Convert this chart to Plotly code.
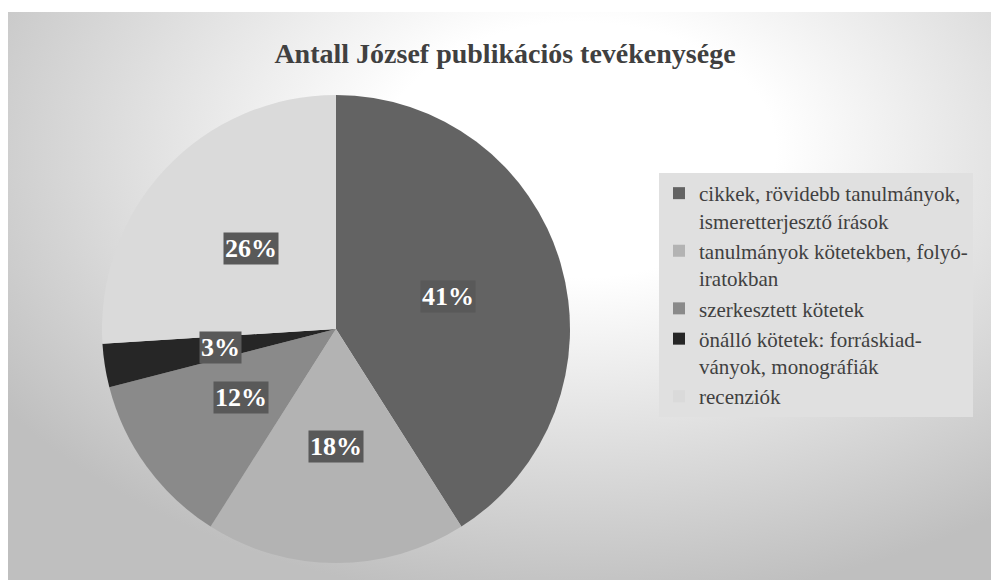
import base64
import math
import plotly.graph_objects as go

# ---- data ----
categories = [
    "cikkek, rövidebb tanulmányok,<br>ismeretterjesztő írások",
    "tanulmányok kötetekben, folyó-<br>iratokban",
    "szerkesztett kötetek",
    "önálló kötetek: forráskiad-<br>ványok, monográfiák",
    "recenziók",
]
shares = [41, 18, 12, 3, 26]
slice_colors = ["#636363", "#b3b3b3", "#8a8a8a", "#262626", "#dadada"]
title_text = "Antall József publikációs tevékenysége"

W, H = 991, 580
# pie geometry in pixels
cx, cy, R = 336, 329, 234

fig = go.Figure()
fig.add_trace(go.Pie(
    labels=categories,
    values=shares,
    sort=False,
    direction="clockwise",
    rotation=0,
    marker=dict(colors=slice_colors, line=dict(width=0)),
    textinfo="none",
    hoverinfo="label+percent",
    domain=dict(x=[(cx - R) / W, (cx + R) / W], y=[(H - cy - R) / H, (H - cy + R) / H]),
))

# percentage labels at half radius, derived from the data
total = sum(shares)
cum = 0
annotations = []
for v in shares:
    mid = (cum + v / 2) / total * 2 * math.pi
    cum += v
    px = cx + 0.5 * R * math.sin(mid)
    py = cy - 0.5 * R * math.cos(mid)
    annotations.append(dict(
        x=px / W, y=1 - py / H, xref="paper", yref="paper",
        text=f"{round(v / total * 100)}%", showarrow=False,
        font=dict(family="Liberation Serif", size=26, color="white", weight="bold"),
        bgcolor="#595959", borderpad=1,
        xanchor="center", yanchor="middle",
    ))

svg = (
    '<svg xmlns="http://www.w3.org/2000/svg" width="983" height="568" viewBox="0 0 983 568" preserveAspectRatio="none">'
    '<defs><radialGradient id="g" gradientUnits="userSpaceOnUse" cx="572" cy="138" r="700" '
    'gradientTransform="translate(572 138) scale(1 0.65) translate(-572 -138)">'
    '<stop offset="0.28" stop-color="#ffffff"/><stop offset="1" stop-color="#bfbfbf"/>'
    '</radialGradient></defs><rect width="983" height="568" fill="url(#g)"/></svg>'
)
src = "data:image/svg+xml;base64," + base64.b64encode(svg.encode()).decode()

fig.update_layout(
    width=W, height=H,
    margin=dict(l=0, r=0, t=0, b=0),
    paper_bgcolor="white",
    title=dict(
        text=title_text, x=505 / W, y=1 - 53 / H, xanchor="center", yanchor="middle",
        xref="paper", yref="paper",
        font=dict(family="Liberation Serif", size=28, color="#404040", weight="bold"),
    ),
    legend=dict(
        x=659 / W, y=1 - 173 / H, xanchor="left", yanchor="top",
        bgcolor="#e0e0e0", borderwidth=0,
        font=dict(family="Liberation Serif", size=21, color="#404040"),
        valign="top", tracegroupgap=0,
    ),
    annotations=annotations,
    images=[dict(
        source=src, xref="paper", yref="paper",
        x=8 / W, y=1 - 12 / H, sizex=983 / W, sizey=568 / H,
        xanchor="left", yanchor="top", sizing="stretch", layer="below",
    )],
    showlegend=True,
)

fig.write_html(
    "out.html",
    config={"displayModeBar": False},
    post_script="document.body.style.margin='0';document.body.style.overflow='hidden';",
)
